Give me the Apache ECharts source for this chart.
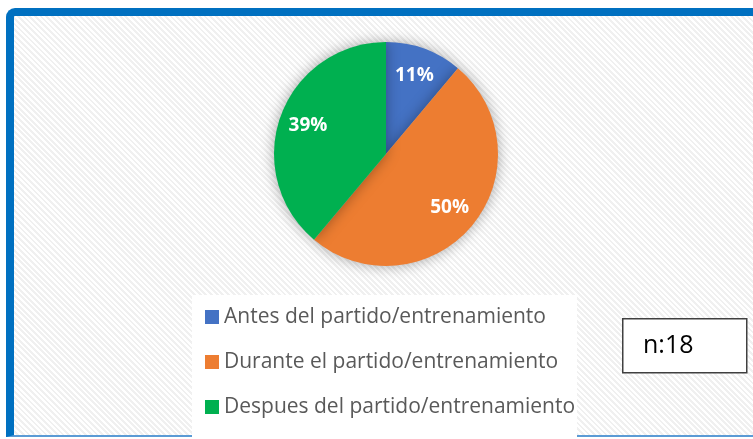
<!DOCTYPE html>
<html>
<head>
<meta charset="utf-8">
<script src="https://cdn.jsdelivr.net/npm/echarts@6/dist/echarts.min.js"></script>
<style>
  html, body { margin: 0; padding: 0; background: #fff; }
  #wrap { position: relative; width: 753px; height: 439px; overflow: hidden; background: #fff; }
  /* marco azul con fondo rayado */
  #frame {
    position: absolute; left: 6px; top: 8px; width: 800px; height: 429px;
    border-top: 8px solid #0070C0; border-left: 8px solid #0070C0;
    border-bottom: 2px solid #5B9BD5;
    border-top-left-radius: 9px;
    background: repeating-linear-gradient(45deg, #ffffff 0px, #ffffff 2px, #f0f0f0 2px, #f0f0f0 4px);
    box-sizing: border-box;
  }
  #main { position: absolute; left: 0; top: 0; width: 753px; height: 439px; }
</style>
</head>
<body>
<div id="wrap">
  <div id="frame"></div>
  <div id="main"></div>
</div>
<script type="text/javascript">
  // datos del grafico
  var categorias = ['Antes del partido/entrenamiento', 'Durante el partido/entrenamiento', 'Despues del partido/entrenamiento'];
  var valores = [2, 9, 7];
  var colores = ['#4472C4', '#ED7D31', '#00B050'];
  var total = 18;

  var chart = echarts.init(document.getElementById('main'));

  var datos = [];
  for (var i = 0; i < categorias.length; i++) {
    datos.push({ name: categorias[i], value: valores[i], itemStyle: { color: colores[i] } });
  }

  chart.setOption({
    backgroundColor: 'transparent',
    animation: false,
    graphic: [
      // caja blanca de la leyenda
      { type: 'rect', left: 192, top: 295, shape: { width: 385, height: 144 }, style: { fill: '#ffffff' }, z: 0 },
      // caja n:18
      { type: 'rect', left: 622, top: 318, shape: { width: 124, height: 54 },
        style: { fill: '#ffffff', stroke: '#404040', lineWidth: 1.5 }, z: 1 },
      { type: 'text', left: 643, top: 333, style: { text: 'n:' + total, fill: '#000', font: '25px "Open Sans", sans-serif' }, z: 2 }
    ],
    legend: {
      orient: 'vertical',
      left: 195,
      top: 295,
      padding: [10, 4, 10, 10],
      icon: 'rect',
      itemWidth: 14,
      itemHeight: 14,
      itemGap: 21,
      itemTextGap: 7,
      textStyle: { color: '#595959', fontSize: 21, lineHeight: 24, fontFamily: 'Open Sans' },
      data: categorias
    },
    series: [
      {
        type: 'pie',
        center: [386, 154],
        radius: 112,
        startAngle: 90,
        silent: true,
        label: { show: false },
        itemStyle: { shadowBlur: 14, shadowColor: 'rgba(0,0,0,0.35)' },
        data: datos
      },
      {
        // serie transparente solo para colocar las etiquetas
        type: 'pie',
        center: [386, 154],
        radius: [48, 112],
        startAngle: 90,
        silent: true,
        legendHoverLink: false,
        itemStyle: { color: 'rgba(0,0,0,0)' },
        label: {
          show: true,
          position: 'inside',
          formatter: function (p) { return Math.round(p.value / total * 100) + '%'; },
          color: '#fff',
          fontSize: 19,
          fontWeight: 'bold',
          fontFamily: 'Open Sans'
        },
        data: categorias.map(function (c, i) { return { name: c + ' ', value: valores[i] }; })
      }
    ]
  });
</script>
</body>
</html>
